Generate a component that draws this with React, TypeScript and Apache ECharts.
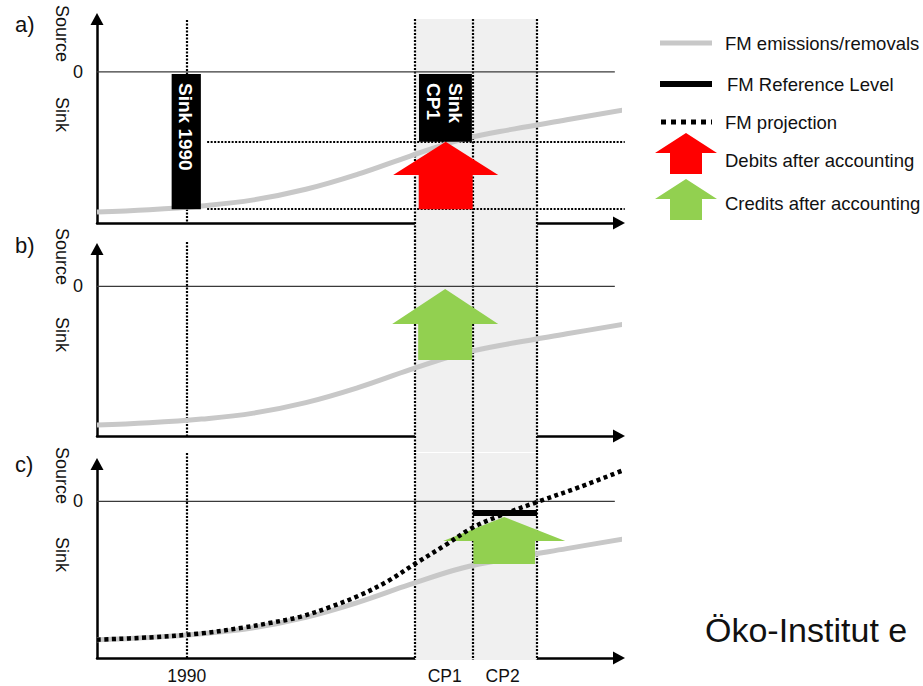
import React, { useEffect, useRef } from "react";
import * as echarts from "echarts";

// ---------- data ----------
const xLabelValues = [17.2, 66.6, 77.7];
const xLabels = ["1990", "CP1", "CP2"];
const yLabelValues = [0];
const panelNames = ["a)", "b)", "c)"];

const year1990 = 17.2;
const periodBounds = [60.9, 72.0, 84.3]; // CP1 start, CP1 end / CP2 start, CP2 end

const emissions = [
  [0, -92.7], [10, -91.2], [20, -88.7], [30, -84.7], [40, -77.7], [50, -67.7],
  [60, -55.7], [70, -44.7], [80, -37.7], [90, -31.7], [101.1, -25.1],
];
const projection = [
  [0, -92.7], [10, -91.2], [20, -88.5], [28, -84.6], [33, -81.6], [38.9, -77.4],
  [44.6, -70.9], [50.4, -62.9], [55.7, -53.5], [61.1, -41.5], [66.7, -29.4], [72, -17.5],
  [77.2, -9.6], [84.3, -0.5], [92.5, 9.6], [101.1, 21.2],
];
const referenceLevel = [[72.0, -7.8], [84.3, -7.8]];
const zeroLine = [[0, 0], [99.2, 0]];

const sinkBarNames = ["Sink 1990", "Sink\nCP1"];
// [center, half width, top, bottom]
const sinkBars = [[17.1, 2.8, -1.4, -90.9], [66.75, 5.07, -1.4, -46.3]];
// [x start, x end, level]
const sinkLevels = [[21.1, 101.1, -46.3], [21.1, 101.1, -90.9]];

// [center, head half width, shaft half width, bottom, head base, tip]
const debitArrowsA = [[66.8, 10.06, 5.17, -90.9, -68.2, -46.3]];
const creditArrowsB = [[66.7, 10.15, 5.17, -49.2, -25.1, -1.7]];
const creditArrowsC = [[78.0, 11.7, 5.9, -42.0, -26.6, -10.5]];

const yRanges = [[-100, 35], [-100, 25], [-105, 25]];

const legendLabels = [
  "FM emissions/removals",
  "FM Reference Level",
  "FM projection",
  "Debits after accounting",
  "Credits after accounting",
];
const sideLabels = ["Source", "Sink"];
const creditText = "Öko-Institut e";

// ---------- layout / style ----------
const FONT = '"Liberation Sans", Arial, Helvetica, sans-serif';
const TEXT = "#111";
const GRAY = "#c8c8c8";
const SHADE = "#f0f0f0";
const RED = "#ff0000";
const GREEN = "#92d050";

const gridBoxes = [
  { left: 97, top: 19, width: 522, height: 204 },
  { left: 97, top: 249, width: 522, height: 187 },
  { left: 97, top: 464, width: 522, height: 194 },
];
// per panel: [[1990 top ext, bottom ext], [CP top ext, bottom ext]] in px
const guideExt = [
  [[-1, 0], [0, 17]],
  [[7, 1], [9, 16]],
  [[11, 0], [11, 2]],
];
const zeroPad = [4, 10, 14];
const panelLabelY = [24, 245, 464];
const sourceY = [5, 228, 447];
const sinkY = [97, 317, 537];
const legendY = [43, 84, 122, 160, 203];

function arrowRender(color: string) {
  return (params: any, api: any) => {
    const cx = api.value(0), hh = api.value(1), sh = api.value(2);
    const yb = api.value(3), yh = api.value(4), yt = api.value(5);
    const pts = [
      [cx - sh, yb], [cx - sh, yh], [cx - hh, yh], [cx, yt],
      [cx + hh, yh], [cx + sh, yh], [cx + sh, yb],
    ].map((p) => api.coord(p));
    return { type: "polygon", shape: { points: pts }, style: { fill: color } };
  };
}

function shadeRender(panel: number) {
  return (params: any, api: any) => {
    const cs = params.coordSys;
    const x1 = api.coord([api.value(0), 0])[0];
    const x2 = api.coord([api.value(1), 0])[0];
    const [et, eb] = guideExt[panel][1];
    return {
      type: "rect",
      shape: { x: x1, y: cs.y - et, width: x2 - x1, height: cs.height + et + eb },
      style: { fill: SHADE },
    };
  };
}

function guideRender(panel: number) {
  return (params: any, api: any) => {
    const cs = params.coordSys;
    const x = Math.round(api.coord([api.value(0), 0])[0]);
    const kind = api.value(1);
    const [et, eb] = guideExt[panel][kind];
    return {
      type: "line",
      shape: { x1: x, y1: cs.y - et, x2: x, y2: cs.y + cs.height + eb },
      style: { stroke: "#000", lineWidth: 2.2, lineDash: [2, 1.5] },
    };
  };
}

function levelRender(params: any, api: any) {
  const p1 = api.coord([api.value(0), api.value(2)]);
  const p2 = api.coord([api.value(1), api.value(2)]);
  const y = Math.round(p1[1]);
  return {
    type: "line",
    shape: { x1: p1[0], y1: y, x2: p2[0], y2: y },
    style: { stroke: "#000", lineWidth: 2.2, lineDash: [2, 1.5] },
  };
}

function barRender(params: any, api: any) {
  const c = api.value(0), hw = api.value(1), top = api.value(2), bot = api.value(3);
  const p1 = api.coord([c - hw, top]);
  const p2 = api.coord([c + hw, bot]);
  return {
    type: "group",
    children: [
      {
        type: "rect",
        shape: { x: p1[0], y: p1[1], width: p2[0] - p1[0], height: p2[1] - p1[1] },
        style: { fill: "#000" },
      },
      {
        type: "text",
        x: (p1[0] + p2[0]) / 2 - 1,
        y: p1[1] + 9,
        rotation: -Math.PI / 2,
        style: {
          text: sinkBarNames[params.dataIndex],
          fill: "#fff",
          fontSize: 19,
          fontWeight: "bold",
          fontFamily: FONT,
          align: "left",
          verticalAlign: "middle",
          lineHeight: 22,
        },
      },
    ],
  };
}

function buildOption() {
  const grid = gridBoxes.map((g) => ({ ...g }));
  const xAxis = gridBoxes.map((_, i) => ({
    type: "value",
    gridIndex: i,
    min: 0,
    max: 100,
    splitLine: { show: false },
    axisTick: { show: false },
    axisLine: {
      show: true,
      onZero: false,
      symbol: ["none", "triangle"],
      symbolSize: [13, 12],
      lineStyle: { color: "#000", width: 2.5 },
    },
    axisLabel:
      i === 2
        ? {
            show: true,
            customValues: xLabelValues,
            margin: 9,
            fontSize: 17.5,
            fontFamily: FONT,
            color: TEXT,
            formatter: (v: number) => {
              let best = 0;
              xLabelValues.forEach((lv, k) => {
                if (Math.abs(lv - v) < Math.abs(xLabelValues[best] - v)) best = k;
              });
              return xLabels[best];
            },
          }
        : { show: false },
  }));
  const yAxis = gridBoxes.map((_, i) => ({
    type: "value",
    gridIndex: i,
    min: yRanges[i][0],
    max: yRanges[i][1],
    splitLine: { show: false },
    axisTick: { show: false },
    axisLine: {
      show: true,
      onZero: false,
      symbol: ["none", "triangle"],
      symbolSize: [13, 12],
      lineStyle: { color: "#000", width: 2.5 },
    },
    axisLabel: {
      show: true,
      customValues: yLabelValues,
      margin: 14,
      fontSize: 18,
      fontFamily: FONT,
      color: TEXT,
      padding: [zeroPad[i], 0, 0, 0],
    },
  }));

  const series: any[] = [];
  for (let i = 0; i < 3; i++) {
    const ax = { xAxisIndex: i, yAxisIndex: i };
    series.push({
      type: "custom", ...ax, name: "period", silent: true, clip: false, z: 1,
      data: [[periodBounds[0], periodBounds[2]]],
      renderItem: shadeRender(i),
    });
    series.push({
      type: "custom", ...ax, name: "guides", silent: true, clip: false, z: 2,
      data: [[year1990, 0], [periodBounds[0], 1], [periodBounds[1], 1], [periodBounds[2], 1]],
      renderItem: guideRender(i),
    });
    series.push({
      type: "line", ...ax, name: "zero", data: zeroLine, symbol: "none", silent: true, clip: false, z: 3,
      lineStyle: { color: "#3a3a3a", width: 1.2 },
    });
    series.push({
      type: "line", ...ax, name: legendLabels[0], data: emissions, symbol: "none",
      smooth: 0.4, silent: true, clip: false, z: 4,
      lineStyle: { color: GRAY, width: 5 },
    });
  }
  // panel a
  series.push({
    type: "custom", xAxisIndex: 0, yAxisIndex: 0, name: "sink levels", silent: true, clip: false, z: 3,
    data: sinkLevels, renderItem: levelRender,
  });
  series.push({
    type: "custom", xAxisIndex: 0, yAxisIndex: 0, name: "sinks", silent: true, clip: false, z: 5,
    data: sinkBars, renderItem: barRender,
  });
  series.push({
    type: "custom", xAxisIndex: 0, yAxisIndex: 0, name: legendLabels[3], silent: true, clip: false, z: 6,
    data: debitArrowsA, renderItem: arrowRender(RED),
  });
  // panel b
  series.push({
    type: "custom", xAxisIndex: 1, yAxisIndex: 1, name: legendLabels[4], silent: true, clip: false, z: 6,
    data: creditArrowsB, renderItem: arrowRender(GREEN),
  });
  // panel c
  series.push({
    type: "custom", xAxisIndex: 2, yAxisIndex: 2, name: legendLabels[4], silent: true, clip: false, z: 6,
    data: creditArrowsC, renderItem: arrowRender(GREEN),
  });
  series.push({
    type: "line", xAxisIndex: 2, yAxisIndex: 2, name: legendLabels[2], data: projection, symbol: "none",
    smooth: 0.35, silent: true, clip: false, z: 7,
    lineStyle: { color: "#000", width: 4.5, type: [4, 3.5], cap: "butt" },
  });
  series.push({
    type: "line", xAxisIndex: 2, yAxisIndex: 2, name: legendLabels[1], data: referenceLevel, symbol: "none",
    silent: true, clip: false, z: 8,
    lineStyle: { color: "#000", width: 6 },
  });

  const txt = (text: string, x: number, y: number, size: number, extra: any = {}) => ({
    type: "text",
    x,
    y,
    silent: true,
    ...extra,
    style: {
      text,
      fill: TEXT,
      fontSize: size,
      fontFamily: FONT,
      align: "left",
      verticalAlign: "middle",
      ...(extra.style || {}),
    },
  });

  const graphic: any[] = [];
  panelNames.forEach((t, i) => graphic.push(txt(t, 15, panelLabelY[i], 22)));
  for (let i = 0; i < 3; i++) {
    graphic.push(txt(sideLabels[0], 61.5, sourceY[i], 18, { rotation: -Math.PI / 2 }));
    graphic.push(txt(sideLabels[1], 61.5, sinkY[i], 18, { rotation: -Math.PI / 2 }));
  }
  // legend
  graphic.push({ type: "line", silent: true, shape: { x1: 660, y1: legendY[0], x2: 712, y2: legendY[0] }, style: { stroke: GRAY, lineWidth: 5 } });
  graphic.push({ type: "line", silent: true, shape: { x1: 660, y1: legendY[1], x2: 712, y2: legendY[1] }, style: { stroke: "#000", lineWidth: 6 } });
  graphic.push({ type: "line", silent: true, shape: { x1: 661, y1: legendY[2], x2: 712, y2: legendY[2] }, style: { stroke: "#000", lineWidth: 5, lineDash: [5, 5] } });
  const legendArrow = (tipY: number, color: string) => ({
    type: "polygon",
    silent: true,
    shape: {
      points: [
        [670, tipY + 41], [670, tipY + 20], [655, tipY + 20], [686, tipY],
        [717, tipY + 20], [702, tipY + 20], [702, tipY + 41],
      ],
    },
    style: { fill: color },
  });
  graphic.push(legendArrow(133, RED));
  graphic.push(legendArrow(179, GREEN));
  legendLabels.forEach((t, k) => graphic.push(txt(t, k === 1 ? 727 : 725, legendY[k], 18.5)));
  graphic.push(txt(creditText, 705, 629.5, 34));

  return { animation: false, grid, xAxis, yAxis, series, graphic };
}

export default function App() {
  const ref = useRef<HTMLDivElement>(null);
  useEffect(() => {
    if (!ref.current) return;
    const chart = echarts.init(ref.current, null, { renderer: "svg" });
    chart.setOption(buildOption() as any);
    return () => chart.dispose();
  }, []);
  return (
    <div
      ref={ref}
      style={{ position: "fixed", left: 0, top: 0, width: 923, height: 686, background: "#fff" }}
    />
  );
}
